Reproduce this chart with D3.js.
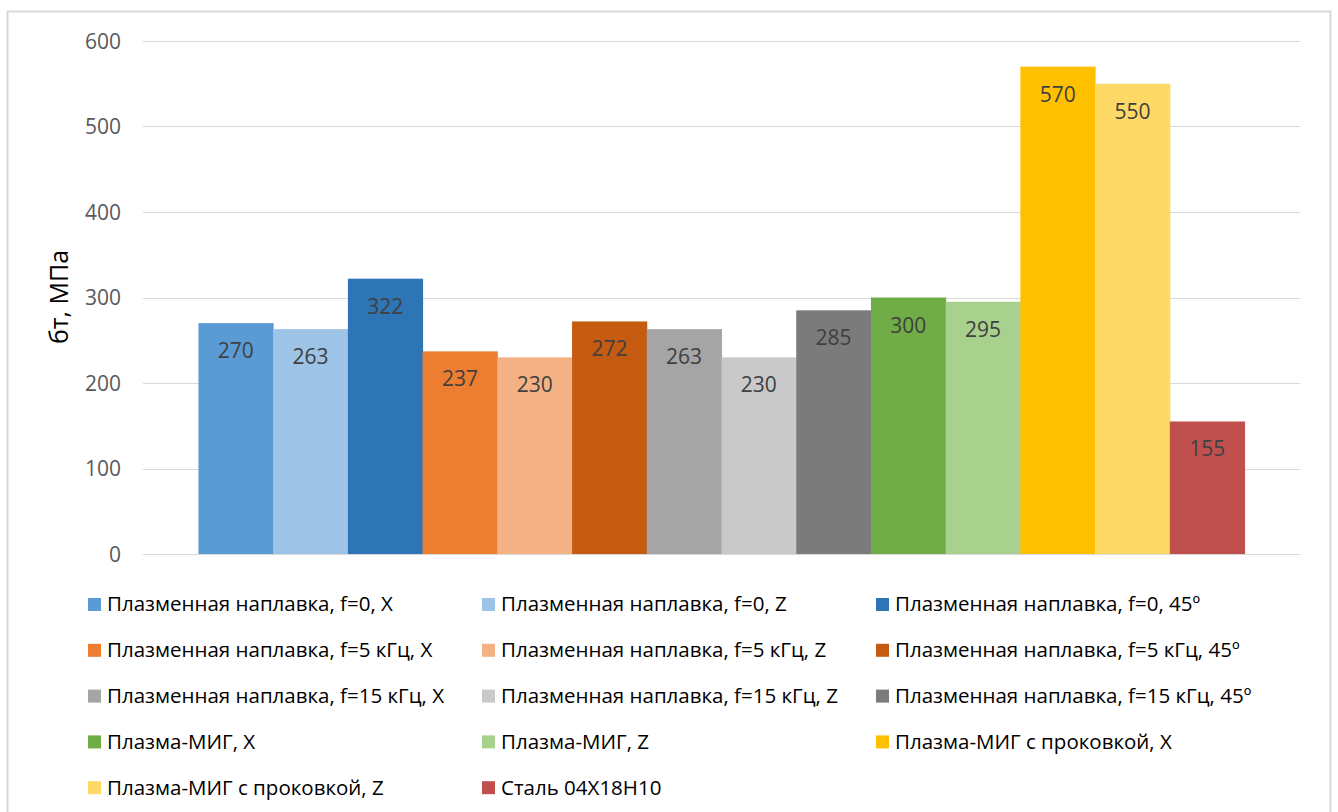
<!DOCTYPE html>
<html>
<head>
<meta charset="utf-8">
<script src="https://cdn.jsdelivr.net/npm/d3@7"></script>
<style>
  html, body { margin: 0; padding: 0; background: #fff; }
  svg { display: block; }
</style>
</head>
<body>
<svg id="chart" width="1338" height="812"></svg>
<script>
// Series names (one bar per series), values in MPa and fill colours
const seriesNames = [
  "Плазменная наплавка, f=0, X",
  "Плазменная наплавка, f=0, Z",
  "Плазменная наплавка, f=0, 45º",
  "Плазменная наплавка, f=5 кГц, X",
  "Плазменная наплавка, f=5 кГц, Z",
  "Плазменная наплавка, f=5 кГц, 45º",
  "Плазменная наплавка, f=15 кГц, X",
  "Плазменная наплавка, f=15 кГц, Z",
  "Плазменная наплавка, f=15 кГц, 45º",
  "Плазма-МИГ, X",
  "Плазма-МИГ, Z",
  "Плазма-МИГ с  проковкой, X",
  "Плазма-МИГ с  проковкой, Z",
  "Сталь 04Х18Н10"
];
const seriesValues = [270, 263, 322, 237, 230, 272, 263, 230, 285, 300, 295, 570, 550, 155];
const seriesColors = [
  "#5B9BD5", "#9DC3E6", "#2E75B6",
  "#ED7D31", "#F4B183", "#C55A11",
  "#A5A5A5", "#C9C9C9", "#7B7B7B",
  "#70AD47", "#A9D18E",
  "#FFC000", "#FFD966",
  "#C0504D"
];
const yTicks = [0, 100, 200, 300, 400, 500, 600];
const yTitle = "бт, МПа";

const font = "'Open Sans', 'Noto Sans', sans-serif";
const svg = d3.select("#chart");

// Chart frame
svg.append("rect")
  .attr("x", 7.5).attr("y", 11.5)
  .attr("width", 1323).attr("height", 820)
  .attr("fill", "#fff").attr("stroke", "#d9d9d9").attr("stroke-width", 2);

const plot = { left: 143, right: 1300, top: 41, bottom: 554 };

const y = d3.scaleLinear().domain([0, 600]).range([plot.bottom, plot.top]);

// One category group; bars sit side by side within it
const outer = d3.scaleBand().domain(["g"]).range([plot.left, plot.right]).paddingOuter(0.053);
const inner = d3.scaleBand().domain(d3.range(seriesNames.length))
  .range([outer("g"), outer("g") + outer.bandwidth()]).padding(0);

// Gridlines
svg.append("g")
  .selectAll("line").data(yTicks).join("line")
  .attr("x1", plot.left).attr("x2", plot.right)
  .attr("y1", d => Math.round(y(d)) + 0.5).attr("y2", d => Math.round(y(d)) + 0.5)
  .attr("stroke", "#d9d9d9").attr("stroke-width", 1);

// Y axis labels
const yAxis = d3.axisLeft(y).tickValues(yTicks).tickSize(0).tickPadding(0);
const yg = svg.append("g").attr("transform", `translate(${plot.left - 22},0)`).call(yAxis);
yg.select(".domain").remove();
yg.selectAll("text")
  .attr("font-family", font).attr("font-size", 21).attr("fill", "#595959")
  .attr("dy", "0.35em");

// Axis title
svg.append("text")
  .attr("transform", `translate(68,297) rotate(-90)`)
  .attr("text-anchor", "middle")
  .attr("font-family", font).attr("font-size", 25).attr("fill", "#000")
  .text(yTitle);

// Bars
svg.append("g")
  .selectAll("rect").data(seriesValues).join("rect")
  .attr("x", (d, i) => inner(i))
  .attr("width", inner.bandwidth() + 0.5)
  .attr("y", d => y(d))
  .attr("height", d => y(0) - y(d))
  .attr("fill", (d, i) => seriesColors[i]);

// Value labels inside bar tops
svg.append("g")
  .selectAll("text").data(seriesValues).join("text")
  .attr("x", (d, i) => inner(i) + inner.bandwidth() / 2)
  .attr("y", d => y(d) + 35)
  .attr("text-anchor", "middle")
  .attr("font-family", font).attr("font-size", 21).attr("fill", "#404040")
  .text(d => d);

// Legend: 3 columns
const legendCols = [88, 482, 876];
const legendRow0 = 604, legendRowStep = 45.8;
const lg = svg.append("g").selectAll("g").data(seriesNames).join("g")
  .attr("transform", (d, i) => `translate(${legendCols[i % 3]},${legendRow0 + Math.floor(i / 3) * legendRowStep})`);
lg.append("rect")
  .attr("x", 0).attr("y", -6).attr("width", 13).attr("height", 13)
  .attr("fill", (d, i) => seriesColors[i]);
lg.append("text")
  .attr("x", 19).attr("y", 0).attr("dy", "0.36em")
  .attr("font-family", font).attr("font-size", 20.5).attr("fill", "#000")
  .text(d => d);
</script>
</body>
</html>
